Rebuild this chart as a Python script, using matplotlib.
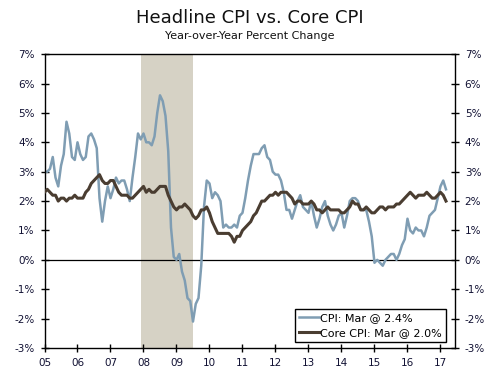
import matplotlib
matplotlib.use("Agg")
import matplotlib.pyplot as plt
import numpy as np

# monthly year-over-year % change, Jan 2005 - Mar 2017
cpi = [
    3.0, 3.0, 3.1, 3.5, 2.8, 2.5, 3.2, 3.6, 4.7, 4.3, 3.5, 3.4,
    4.0, 3.6, 3.4, 3.5, 4.2, 4.3, 4.1, 3.8, 2.1, 1.3, 2.0, 2.5,
    2.1, 2.4, 2.8, 2.6, 2.7, 2.7, 2.4, 2.0, 2.8, 3.5, 4.3, 4.1,
    4.3, 4.0, 4.0, 3.9, 4.2, 5.0, 5.6, 5.4, 4.9, 3.7, 1.1, 0.1,
    0.0, 0.2, -0.4, -0.7, -1.3, -1.4, -2.1, -1.5, -1.3, -0.2, 1.8, 2.7,
    2.6, 2.1, 2.3, 2.2, 2.0, 1.1, 1.2, 1.1, 1.1, 1.2, 1.1, 1.5,
    1.6, 2.1, 2.7, 3.2, 3.6, 3.6, 3.6, 3.8, 3.9, 3.5, 3.4, 3.0,
    2.9, 2.9, 2.7, 2.3, 1.7, 1.7, 1.4, 1.7, 2.0, 2.2, 1.8, 1.7,
    1.6, 2.0, 1.5, 1.1, 1.4, 1.8, 2.0, 1.5, 1.2, 1.0, 1.2, 1.5,
    1.6, 1.1, 1.5, 2.0, 2.1, 2.1, 2.0, 1.7, 1.7, 1.7, 1.3, 0.8,
    -0.1, 0.0, -0.1, -0.2, 0.0, 0.1, 0.2, 0.2, 0.0, 0.2, 0.5, 0.7,
    1.4, 1.0, 0.9, 1.1, 1.0, 1.0, 0.8, 1.1, 1.5, 1.6, 1.7, 2.1,
    2.5, 2.7, 2.4,
]
core = [
    2.3, 2.4, 2.3, 2.2, 2.2, 2.0, 2.1, 2.1, 2.0, 2.1, 2.1, 2.2,
    2.1, 2.1, 2.1, 2.3, 2.4, 2.6, 2.7, 2.8, 2.9, 2.7, 2.6, 2.6,
    2.7, 2.7, 2.5, 2.3, 2.2, 2.2, 2.2, 2.1, 2.1, 2.2, 2.3, 2.4,
    2.5, 2.3, 2.4, 2.3, 2.3, 2.4, 2.5, 2.5, 2.5, 2.2, 2.0, 1.8,
    1.7, 1.8, 1.8, 1.9, 1.8, 1.7, 1.5, 1.4, 1.5, 1.7, 1.7, 1.8,
    1.6, 1.3, 1.1, 0.9, 0.9, 0.9, 0.9, 0.9, 0.8, 0.6, 0.8, 0.8,
    1.0, 1.1, 1.2, 1.3, 1.5, 1.6, 1.8, 2.0, 2.0, 2.1, 2.2, 2.2,
    2.3, 2.2, 2.3, 2.3, 2.3, 2.2, 2.1, 1.9, 2.0, 2.0, 1.9, 1.9,
    1.9, 2.0, 1.9, 1.7, 1.7, 1.6, 1.7, 1.8, 1.7, 1.7, 1.7, 1.7,
    1.6, 1.6, 1.7, 1.8, 2.0, 1.9, 1.9, 1.7, 1.7, 1.8, 1.7, 1.6,
    1.6, 1.7, 1.8, 1.8, 1.7, 1.8, 1.8, 1.8, 1.9, 1.9, 2.0, 2.1,
    2.2, 2.3, 2.2, 2.1, 2.2, 2.2, 2.2, 2.3, 2.2, 2.1, 2.1, 2.2,
    2.3, 2.2, 2.0,
]
recession = (2007 + 11 / 12, 2009.5)
years = list(range(2005, 2018))
year_labels = [f"{y % 100:02d}" for y in years]

t = 2005 + np.arange(len(cpi)) / 12

fig = plt.figure(figsize=(5.0, 3.71), dpi=100)
ax = fig.add_axes([0.089, 0.062, 0.821, 0.792])

ax.axvspan(*recession, color="#d6d2c5", lw=0, zorder=0)
ax.axhline(0, color="black", lw=0.9, zorder=1)
ax.plot(t, cpi, color="#7f9db3", lw=1.8, label="CPI: Mar @ 2.4%", zorder=2)
ax.plot(t, core, color="#4a3d31", lw=2.2, label="Core CPI: Mar @ 2.0%", zorder=3)

ax.set_xlim(2005, 2017.44)
ax.set_ylim(-3, 7)
ax.set_xticks(years)
ax.set_xticklabels(year_labels)
ax.set_yticks(range(-3, 8))
ax.set_yticklabels([f"{v}%" for v in range(-3, 8)])
ax.tick_params(direction="inout", length=6, width=1, labelsize=7.5,
               color="black", labelcolor="#111133", pad=4)
ax.tick_params(axis="y", right=True, labelright=True)
for s in ax.spines.values():
    s.set_color("black")
    s.set_linewidth(1)

leg = ax.legend(loc="lower right", bbox_to_anchor=(0.978, 0.02),
                fontsize=8, frameon=True, fancybox=False,
                edgecolor="black", framealpha=1, handlelength=1.8,
                handletextpad=0.1, borderpad=0.35, labelspacing=0.45,
                borderaxespad=0)
leg.get_frame().set_linewidth(1)

fig.text(0.5, 0.951, "Headline CPI vs. Core CPI", ha="center", va="center",
         fontsize=13, color="#111111")
fig.text(0.5, 0.903, "Year-over-Year Percent Change", ha="center", va="center",
         fontsize=8, color="#111111")

fig.savefig("out.png", dpi=100)
